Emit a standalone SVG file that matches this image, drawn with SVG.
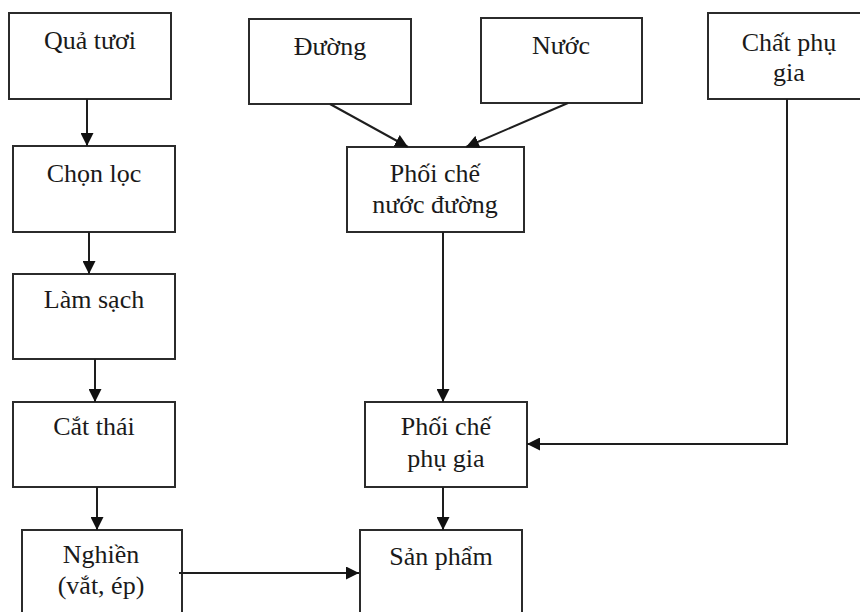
<svg xmlns="http://www.w3.org/2000/svg" width="860" height="612" viewBox="0 0 860 612">
  <style>
    .box { fill: #ffffff; stroke: #2b2b2b; stroke-width: 2; }
    .lbl { font-family: "Liberation Serif", "Times New Roman", serif; font-size: 26px; fill: #1a1a1a; text-anchor: middle; }
    .wire { fill: none; stroke: #1e1e1e; stroke-width: 2; }
  </style>
  <defs>
    <marker id="head" markerUnits="userSpaceOnUse" markerWidth="13" markerHeight="13" refX="13" refY="6.5" orient="auto">
      <path d="M0,0 L13,6.5 L0,13 Z" fill="#111111"/>
    </marker>
  </defs>
  <rect width="860" height="612" fill="#ffffff"/>

  <!-- process steps -->
  <g id="qua-tuoi">
    <rect class="box" x="9" y="13" width="162" height="86"/>
    <text class="lbl" x="90" y="49">Quả tươi</text>
  </g>
  <g id="chon-loc">
    <rect class="box" x="13" y="146" width="162" height="86"/>
    <text class="lbl" x="94" y="182">Chọn lọc</text>
  </g>
  <g id="lam-sach">
    <rect class="box" x="13" y="274" width="162" height="85"/>
    <text class="lbl" x="94" y="308">Làm sạch</text>
  </g>
  <g id="cat-thai">
    <rect class="box" x="13" y="402" width="162" height="85"/>
    <text class="lbl" x="94" y="435">Cắt thái</text>
  </g>
  <g id="nghien">
    <rect class="box" x="22" y="530" width="160" height="100"/>
    <text class="lbl" x="101" y="563">Nghiền</text>
    <text class="lbl" x="101" y="594">(vắt,  ép)</text>
  </g>
  <g id="duong">
    <rect class="box" x="249" y="19" width="162" height="85"/>
    <text class="lbl" x="330" y="55">Đường</text>
  </g>
  <g id="nuoc">
    <rect class="box" x="481" y="18" width="161" height="85"/>
    <text class="lbl" x="561" y="54">Nước</text>
  </g>
  <g id="chat-phu-gia">
    <rect class="box" x="708" y="13" width="162" height="86"/>
    <text class="lbl" x="789" y="51">Chất phụ</text>
    <text class="lbl" x="789" y="81">gia</text>
  </g>
  <g id="phoi-che-nuoc-duong">
    <rect class="box" x="347" y="147" width="177" height="85"/>
    <text class="lbl" x="435" y="182">Phối chế</text>
    <text class="lbl" x="435" y="213">nước đường</text>
  </g>
  <g id="phoi-che-phu-gia">
    <rect class="box" x="365" y="402" width="162" height="85"/>
    <text class="lbl" x="446" y="435">Phối chế</text>
    <text class="lbl" x="446" y="467">phụ gia</text>
  </g>
  <g id="san-pham">
    <rect class="box" x="360" y="530" width="162" height="100"/>
    <text class="lbl" x="441" y="565">Sản phẩm</text>
  </g>

  <!-- connectors -->
  <g id="connectors">
    <line class="wire" x1="87" y1="99" x2="87" y2="146" marker-end="url(#head)"/>
    <line class="wire" x1="89" y1="232" x2="89" y2="274" marker-end="url(#head)"/>
    <line class="wire" x1="95" y1="359" x2="95" y2="402" marker-end="url(#head)"/>
    <line class="wire" x1="97" y1="487" x2="97" y2="530" marker-end="url(#head)"/>
    <line class="wire" x1="330" y1="104" x2="408" y2="147" marker-end="url(#head)"/>
    <line class="wire" x1="568" y1="103" x2="466" y2="147" marker-end="url(#head)"/>
    <line class="wire" x1="443" y1="232" x2="443" y2="402" marker-end="url(#head)"/>
    <polyline class="wire" points="787,99 787,444 527,444" marker-end="url(#head)"/>
    <line class="wire" x1="443" y1="487" x2="443" y2="530" marker-end="url(#head)"/>
    <line class="wire" x1="179" y1="573" x2="359" y2="573" marker-end="url(#head)"/>
  </g>
</svg>
